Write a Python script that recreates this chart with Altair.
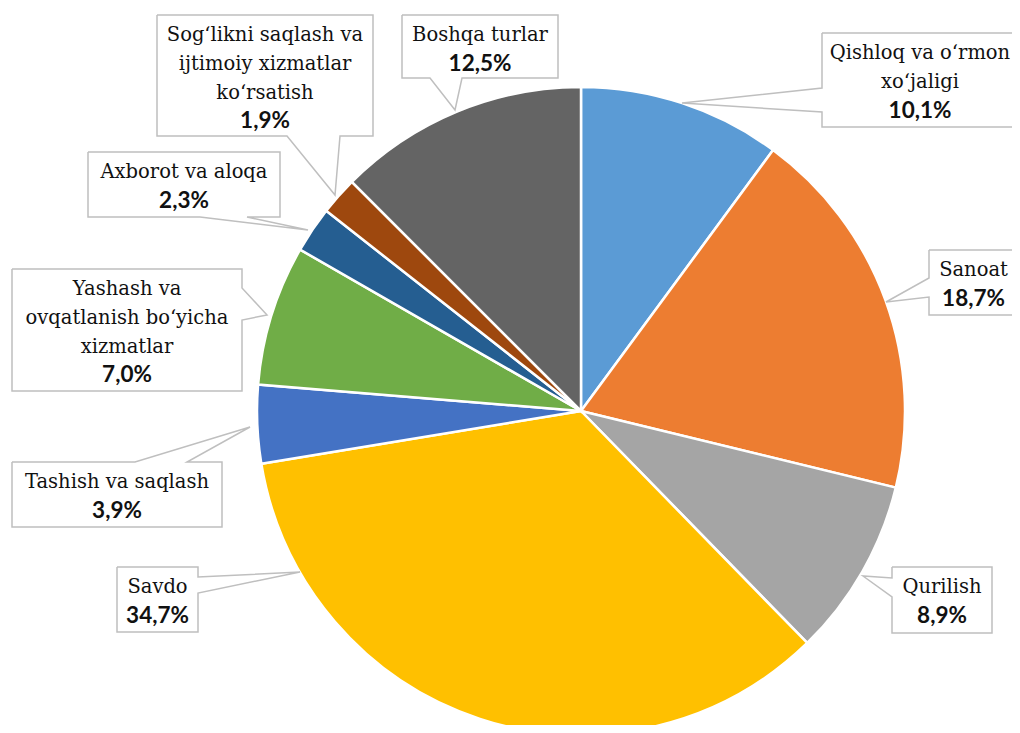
import altair as alt
import pandas as pd

# ---------------- data ----------------
categories = [
    "Qishloq va o‘rmon xo‘jaligi",
    "Sanoat",
    "Qurilish",
    "Savdo",
    "Tashish va saqlash",
    "Yashash va ovqatlanish bo‘yicha xizmatlar",
    "Axborot va aloqa",
    "Sog‘likni saqlash va ijtimoiy xizmatlar ko‘rsatish",
    "Boshqa turlar",
]
shares = [10.1, 18.7, 8.9, 34.7, 3.9, 7.0, 2.3, 1.9, 12.5]
pct_labels = ["10,1%", "18,7%", "8,9%", "34,7%", "3,9%", "7,0%", "2,3%", "1,9%", "12,5%"]
label_lines = [
    ["Qishloq va o‘rmon", "xo‘jaligi"],
    ["Sanoat"],
    ["Qurilish"],
    ["Savdo"],
    ["Tashish va saqlash"],
    ["Yashash va", "ovqatlanish bo‘yicha", "xizmatlar"],
    ["Axborot va aloqa"],
    ["Sog‘likni saqlash va", "ijtimoiy xizmatlar", "ko‘rsatish"],
    ["Boshqa turlar"],
]
colors = ["#5B9BD5", "#ED7D31", "#A5A5A5", "#FFC000", "#4472C4",
          "#70AD47", "#255E91", "#9E480E", "#646464"]

# ---------------- layout (page pixels) ----------------
M = 8
W, H = 1004, 717
CX, CY, R = 581 - M, 411 - M, 324

# callout boxes: x0, y0, x1, y1 ; pointer: edge, base1, base2, tip_x, tip_y
boxes = [
    (822, 33, 1018, 127), (929, 250, 1018, 315), (892, 567, 992, 633),
    (117, 567, 198, 632), (12, 462, 222, 527), (12, 269, 242, 391),
    (88, 152, 280, 217), (157, 15, 373, 136), (402, 15, 558, 78),
]
pointers = [
    ("left", 88, 112, 682, 103), ("left", 278, 297, 886, 302),
    ("left", 578, 597, 863, 576), ("right", 577, 593, 300, 572),
    ("top", 135, 187, 250, 427), ("right", 288, 320, 267, 315),
    ("bottom", 200, 247, 308, 230), ("bottom", 287, 340, 335, 195),
    ("bottom", 430, 462, 455, 110),
]

# ---------------- tables ----------------
pie_df = pd.DataFrame({"cat": categories, "share": shares, "idx": list(range(len(shares)))})

rect_rows, path_rows, name_rows, pct_rows = [], [], [], []
for i, ((x0, y0, x1, y1), (edge, b1, b2, tx, ty)) in enumerate(zip(boxes, pointers)):
    x0, y0, x1, y1 = x0 - M, y0 - M, x1 - M, y1 - M
    b1, b2 = b1 - M, b2 - M
    tx, ty = tx - M, ty - M
    rect_rows.append({"id": i, "x0": x0, "y0": y0, "x1": x1, "y1": y1})
    pts = [(x0, y0)]
    if edge == "top":
        pts += [(b1, y0), (tx, ty), (b2, y0)]
    pts.append((x1, y0))
    if edge == "right":
        pts += [(x1, b1), (tx, ty), (x1, b2)]
    pts.append((x1, y1))
    if edge == "bottom":
        pts += [(b2, y1), (tx, ty), (b1, y1)]
    pts.append((x0, y1))
    if edge == "left":
        pts += [(x0, b2), (tx, ty), (x0, b1)]
    pts.append((x0, y0))
    for k, (px, py) in enumerate(pts):
        path_rows.append({"id": i, "k": k, "px": px, "py": py})
    cxm = (x0 + x1) / 2
    for j, line in enumerate(label_lines[i]):
        name_rows.append({"x": cxm, "y": y0 + 20 + 28.8 * j, "t": line})
    pct_rows.append({"x": cxm, "y": y0 + 20 + 28.8 * len(label_lines[i]), "t": pct_labels[i]})

rect_df = pd.DataFrame(rect_rows)
path_df = pd.DataFrame(path_rows)
name_df = pd.DataFrame(name_rows)
pct_df = pd.DataFrame(pct_rows)

xs = alt.Scale(domain=[0, W], nice=False, zero=False)
ys = alt.Scale(domain=[0, H], nice=False, zero=False, reverse=True)

pie = alt.Chart(pie_df).mark_arc(outerRadius=R, stroke="white", strokeWidth=2.5).encode(
    theta=alt.Theta("share:Q", stack=True),
    order=alt.Order("idx:Q"),
    color=alt.Color("cat:N", scale=alt.Scale(domain=categories, range=colors), legend=None),
    x=alt.value(CX),
    y=alt.value(CY),
)

rects = alt.Chart(rect_df).mark_rect(fill="white", strokeWidth=0).encode(
    x=alt.X("x0:Q", scale=xs, axis=None),
    x2="x1:Q",
    y=alt.Y("y0:Q", scale=ys, axis=None),
    y2="y1:Q",
)

paths = alt.Chart(path_df).mark_line(color="#BFBFBF", strokeWidth=1.5).encode(
    x=alt.X("px:Q", scale=xs, axis=None),
    y=alt.Y("py:Q", scale=ys, axis=None),
    detail="id:N",
    order="k:Q",
)

names = alt.Chart(name_df).mark_text(
    font="DejaVu Serif", fontSize=19.5, color="#111111", baseline="middle", align="center"
).encode(
    x=alt.X("x:Q", scale=xs, axis=None),
    y=alt.Y("y:Q", scale=ys, axis=None),
    text="t:N",
)

pcts = alt.Chart(pct_df).mark_text(
    font="Lato", fontSize=22.5, fontWeight="bold", color="#111111", baseline="middle", align="center"
).encode(
    x=alt.X("x:Q", scale=xs, axis=None),
    y=alt.Y("y:Q", scale=ys, axis=None),
    text="t:N",
)

chart = alt.layer(pie, rects, paths, names, pcts).properties(
    width=W, height=H, autosize="none", padding=0
).configure_view(stroke=None)

chart.save("out.html", embed_options={"renderer": "svg", "actions": False})
